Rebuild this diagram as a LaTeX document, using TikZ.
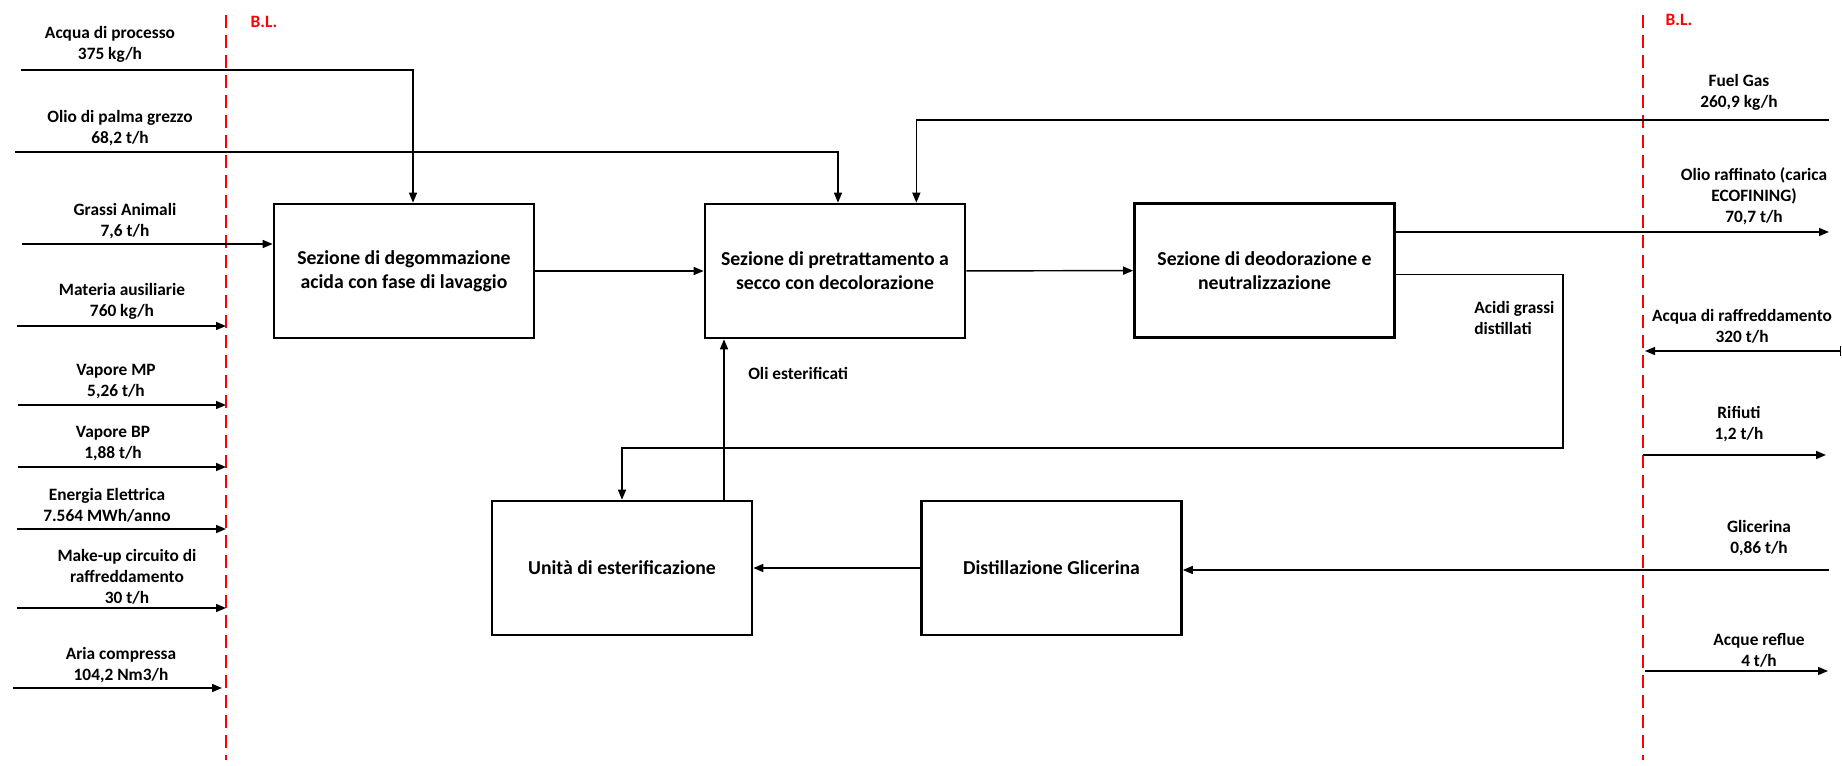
\documentclass[tikz,border=0pt]{standalone}
\usepackage{fontspec}
\setmainfont{Carlito}
\usepackage{xcolor}
\usepackage{tikz}
\usetikzlibrary{arrows.meta}
\definecolor{blred}{HTML}{FF0000}
\newcommand{\lblfont}{\bfseries\fontsize{13}{15.75}\selectfont}
\newcommand{\unitfont}{\bfseries\fontsize{14.8}{18}\selectfont}
\tikzset{
  ar/.style={-{Triangle[length=7.5pt,width=6pt]},line width=1.1pt},
  ln/.style={line width=1.1pt},
  unit/.style={draw,line width=2pt,minimum width=195pt,minimum height=100.5pt,align=center,font=\unitfont,inner sep=4pt},
  lbl/.style={font=\lblfont,align=center,inner sep=0pt},
  bl/.style={blred,line width=2.2pt,dash pattern=on 10pt off 5pt}
}
\begin{document}
\begin{tikzpicture}[x=0.75pt,y=-0.75pt]
\useasboundingbox (0,0) rectangle (1842,766);
\coordinate (blLtop) at (226,15);
\coordinate (blLbot) at (226,760);
\coordinate (blRtop) at (1643,15);
\coordinate (blRbot) at (1643,760);
\draw[bl] (blLtop) -- (blLbot);
\draw[bl] (blRtop) -- (blRbot);
\node[font=\lblfont,blred,inner sep=0pt] (blL) at (264,22) {B.L.};
\node[font=\lblfont,blred,inner sep=0pt] (blR) at (1679,20) {B.L.};

\node[unit] (degom) at (404,271) {Sezione di degommazione\\acida con fase di lavaggio};
\node[unit] (pretr) at (835,271) {Sezione di pretrattamento a\\secco con decolorazione};
\node[unit] (deodor) at (1264.5,270.5) {Sezione di deodorazione e\\neutralizzazione};
\node[unit] (ester) at (622,568) {Unità di esterificazione};
\node[unit] (glicdist) at (1051.5,568) {Distillazione Glicerina};

\node[lbl] (lAcqua) at (110,44.5) {Acqua di processo\\375 kg/h};
\node[lbl] (lOlio) at (120,128) {Olio di palma grezzo\\68,2 t/h};
\node[lbl] (lGrassi) at (125,221.5) {Grassi Animali\\7,6 t/h};
\node[lbl] (lMateria) at (122,301) {Materia ausiliarie\\760 kg/h};
\node[lbl] (lVapMP) at (116,381.5) {Vapore MP\\5,26 t/h};
\node[lbl] (lVapBP) at (113,443.5) {Vapore BP\\1,88 t/h};
\node[lbl] (lEnergia) at (107,505.5) {Energia Elettrica\\7.564 MWh/anno};
\node[lbl] (lMakeup) at (127,577) {Make-up circuito di\\raffreddamento\\30 t/h};
\node[lbl] (lAria) at (121,665.5) {Aria compressa\\104,2 Nm3/h};

\node[lbl] (lFuel) at (1739,92.5) {Fuel Gas\\260,9 kg/h};
\node[lbl] (lRaff) at (1754,196.5) {Olio raffinato (carica\\ECOFINING)\\70,7 t/h};
\node[lbl] (lCool) at (1742,326.5) {Acqua di raffreddamento\\320 t/h};
\node[lbl] (lRifiuti) at (1739,424) {Rifiuti\\1,2 t/h};
\node[lbl] (lGlic) at (1759,538.5) {Glicerina\\0,86 t/h};
\node[lbl] (lReflue) at (1759,650.5) {Acque reflue\\4 t/h};
\node[lbl,align=left,anchor=west] (lAcidi) at (1474,317.5) {Acidi grassi\\distillati};
\node[lbl,anchor=west] (lOliEst) at (748,373) {Oli esterificati};

\coordinate (inAcqua) at (21,70);
\coordinate (inOlio) at (15,152);
\coordinate (inGrassi) at (22,244);
\coordinate (inMateria) at (17,326);
\coordinate (inVapMP) at (18,405);
\coordinate (inVapBP) at (18,467);
\coordinate (inEnergia) at (17,529);
\coordinate (inMakeup) at (17,608);
\coordinate (inAria) at (13,688);
\draw[ar] (inAcqua) -| ([xshift=6.75pt]degom.north);
\draw[ar] (inOlio) -| ([xshift=2.25pt]pretr.north);
\draw[ar] (inGrassi) -- (inGrassi -| degom.west);
\draw[ar] (inMateria) -- (inMateria -| blLtop);
\draw[ar] (inVapMP) -- (inVapMP -| blLtop);
\draw[ar] (inVapBP) -- (inVapBP -| blLtop);
\draw[ar] (inEnergia) -- (inEnergia -| blLtop);
\draw[ar] (inMakeup) -- (inMakeup -| blLtop);
\draw[ar] (inAria) -- ([xshift=-3pt]inAria -| blLtop);

\draw[ar] (degom) -- (pretr);
\draw[ar] (pretr) -- (deodor);
\draw[ar] (glicdist) -- (ester);
\coordinate (oliX) at (724,0);
\draw[ar] (ester.north -| oliX) -- (pretr.south -| oliX);
\coordinate (acidiTurn) at (1563,448);
\draw[ar] ([yshift=-3pt]deodor.east) -| (acidiTurn) -| (ester.north);

\coordinate (inFuel) at (1829,120);
\coordinate (outRaff) at (1829,232);
\coordinate (cwEnd) at (1841,351);
\coordinate (outRifiuti) at (1826,455);
\coordinate (inGlic) at (1829,570);
\coordinate (outReflue) at (1828,671);
\draw[ar] (inFuel) -| ([xshift=-37.5pt]pretr.north east);
\draw[ar] (deodor.east |- outRaff) -- (outRaff);
\draw[ar,{Bar[width=7pt]}-{Triangle[length=7.5pt,width=6pt]}] (cwEnd) -- ([xshift=1.5pt]cwEnd -| blRtop);
\draw[ar] (outRifiuti -| blRtop) -- (outRifiuti);
\draw[ar] (inGlic) -- (inGlic -| glicdist.east);
\draw[ar] ([xshift=1.5pt]outReflue -| blRtop) -- (outReflue);
\end{tikzpicture}
\end{document}
